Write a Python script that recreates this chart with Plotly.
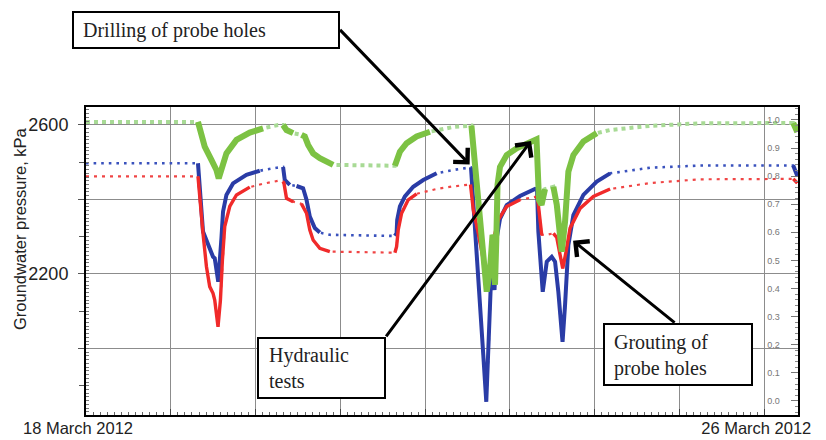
import pandas as pd
import plotly.graph_objects as go

BASE = pd.Timestamp("2012-03-18 00:00")

# ---- data (hours after 18 March 2012 00:00) ----
blue_h = [0, 31.7, 32.19, 33.12, 35.0, 35.96, 36.44, 36.92, 37.43, 38.34, 38.79, 39.75, 41.62,
          45.42, 49.19, 54.0, 55.79, 56.27, 57.69, 59.59, 61.46, 62.42, 63.36, 64.77, 66.19,
          69.02, 87.44, 87.92, 88.09, 88.86, 90.27, 92.63, 95.46, 99.26, 103.96, 108.98,
          109.63, 110.59, 111.53, 112.46, 113.31, 113.88, 114.36, 114.84, 115.64, 116.26,
          117.19, 119.09, 122.86, 127.11, 127.68, 128.05, 129.29, 130.43, 131.84, 132.78,
          133.71, 134.9, 135.61, 136.55, 137.96, 140.8, 144.59, 148.36, 159.69, 173.86,
          200.2, 201.35]
blue_kpa = [2497, 2497, 2421, 2314, 2269, 2246, 2242, 2206, 2179, 2296, 2367, 2412, 2443,
            2466, 2477, 2485, 2487, 2452, 2439, 2436, 2430, 2399, 2354, 2323, 2311,
            2305, 2302, 2309, 2345, 2381, 2408, 2434, 2452, 2470, 2479, 2486,
            2385, 2251, 2117, 1983, 1857, 1983, 2117, 2232, 2157, 2296,
            2348, 2385, 2409, 2428, 2426, 2314, 2152, 2233, 2246, 2233,
            2152, 2018, 2117, 2278, 2358, 2412, 2448, 2470, 2485, 2491,
            2491, 2463]

red_h = [0, 31.7, 32.19, 33.12, 34.09, 35.02, 35.96, 36.44, 37.37, 38.05, 38.62, 39.27, 40.69,
         42.59, 46.36, 50.12, 54.37, 55.79, 56.05, 56.76, 58.63, 61.0, 62.42, 63.36, 64.29,
         66.19, 69.02, 87.44, 87.92, 88.38, 89.34, 91.21, 93.59, 97.36, 99.26, 103.96, 108.84,
         109.63, 111.05, 112.46, 113.43, 114.36, 115.3, 116.71, 119.09, 122.86, 127.11,
         127.82, 129.01, 130.43, 132.3, 133.26, 134.2, 134.96, 135.9, 137.03, 139.86,
         143.63, 148.36, 159.69, 173.86, 200.2, 201.35]
red_kpa = [2462, 2462, 2399, 2309, 2220, 2166, 2148, 2130, 2058, 2130, 2238, 2327, 2381,
           2412, 2433, 2442, 2450, 2448, 2443, 2403, 2394, 2388, 2363, 2318, 2291,
           2269, 2260, 2257, 2273, 2318, 2363, 2399, 2415, 2425, 2428, 2435, 2440,
           2372, 2309, 2238, 2175, 2220, 2291, 2345, 2381, 2399, 2407,
           2404, 2305, 2305, 2309, 2298, 2251, 2215, 2260, 2323, 2376,
           2408, 2428, 2444, 2454, 2455, 2444]

green_h = [0, 31.7, 32.19, 33.6, 35.5, 36.92, 37.57, 38.34, 39.75, 42.59, 46.36, 50.12, 54.37,
           55.79, 56.76, 58.63, 61.0, 61.94, 62.88, 64.29, 66.19, 69.02, 69.96, 87.44, 87.92,
           88.86, 90.76, 93.59, 97.36, 103.96, 109.1, 110.11, 111.05, 112.46, 113.43, 114.36,
           115.07, 115.5, 115.78, 116.15, 116.49, 117.19, 119.09, 121.92, 124.76, 127.53,
           128.24, 128.95, 129.94, 132.3, 133.26, 134.68, 135.61, 136.55, 137.96, 140.8,
           144.59, 148.36, 159.69, 173.86, 200.2, 201.35]
green_rel = [0.993, 0.993, 0.964, 0.905, 0.858, 0.822, 0.792, 0.822, 0.881, 0.929, 0.955, 0.970, 0.982,
             0.982, 0.964, 0.953, 0.947, 0.941, 0.911, 0.881, 0.864, 0.846, 0.840, 0.837, 0.858,
             0.887, 0.917, 0.941, 0.958, 0.975, 0.980, 0.834, 0.680, 0.502, 0.389, 0.466,
             0.591, 0.573, 0.413, 0.573, 0.769, 0.833, 0.875, 0.899, 0.917, 0.931,
             0.715, 0.698, 0.754, 0.762, 0.698, 0.531, 0.638, 0.816, 0.875, 0.923,
             0.953, 0.964, 0.979, 0.988, 0.989, 0.957]

x_tick_days = [0, 1, 2, 3, 4, 5, 6, 7, 8]
x_tick_text = ["18 March 2012", "", "", "", "", "", "", "", "26 March 2012"]
y_tick_vals = [2000, 2200, 2400, 2600]
y_tick_text = ["", "2200", "", "2600"]
y2_tick_vals = [0.0, 0.1, 0.2, 0.3, 0.4, 0.5, 0.6, 0.7, 0.8, 0.9, 1.0]
y2_tick_text = ["0.0", "0.1", "0.2", "0.3", "0.4", "0.5", "0.6", "0.7", "0.8", "0.9", "1.0"]

labels = {
    "drill": "Drilling of probe holes",
    "hydro": "Hydraulic<br>tests",
    "grout": "Grouting of<br>probe holes",
    "ytitle": "Groundwater pressure, kPa",
}

# ---- layout geometry ----
W, H = 826, 440
ML, MR, MT, MB = 86, 28, 107, 25
PW, PH = W - ML - MR, H - MT - MB
X_RANGE_H = [0, 201.55]
Y_RANGE = [1821.5, 2648]
Y2_RANGE = [-0.05, 1.046]


def t(hours):
    return [None if v is None else BASE + pd.Timedelta(hours=v) for v in hours]


def steep_parts(h, v, vspan, thr):
    pxh = PW / (X_RANGE_H[1] - X_RANGE_H[0])
    pxv = PH / vspan
    sx, sy = [], []
    prev = False
    for i in range(len(h) - 1):
        dx = (h[i + 1] - h[i]) * pxh
        dy = abs(v[i + 1] - v[i]) * pxv
        st = dy > thr * dx
        if st:
            if not prev:
                if sx:
                    sx.append(None)
                    sy.append(None)
                sx.append(h[i])
                sy.append(v[i])
            sx.append(h[i + 1])
            sy.append(v[i + 1])
        prev = st
    return sx, sy


def px2paper(px, py):
    return (px - ML) / PW, (H - MB - py) / PH


fig = go.Figure()

yspan = Y_RANGE[1] - Y_RANGE[0]
y2span = Y2_RANGE[1] - Y2_RANGE[0]

# blue
fig.add_trace(go.Scatter(x=t(blue_h), y=blue_kpa, mode="lines", yaxis="y",
                         line=dict(color="#3a52bd", width=2.6, dash="2.6px,5px"),
                         hoverinfo="skip", showlegend=False))
bx, by = steep_parts(blue_h, blue_kpa, yspan, 0.3)
fig.add_trace(go.Scatter(x=t(bx), y=by, mode="lines", yaxis="y",
                         line=dict(color="#2a3ca6", width=4),
                         hoverinfo="skip", showlegend=False))
# red
fig.add_trace(go.Scatter(x=t(red_h), y=red_kpa, mode="lines", yaxis="y",
                         line=dict(color="#f04545", width=2.2, dash="3px,5px"),
                         hoverinfo="skip", showlegend=False))
rx, ry = steep_parts(red_h, red_kpa, yspan, 0.3)
fig.add_trace(go.Scatter(x=t(rx), y=ry, mode="lines", yaxis="y",
                         line=dict(color="#f02a2a", width=3.4),
                         hoverinfo="skip", showlegend=False))
# green (right axis)
fig.add_trace(go.Scatter(x=t(green_h), y=green_rel, mode="lines", yaxis="y2",
                         line=dict(color="#a8da95", width=4, dash="4px,4px"),
                         hoverinfo="skip", showlegend=False))
gx, gy = steep_parts(green_h, green_rel, y2span, 0.3)
fig.add_trace(go.Scatter(x=t(gx), y=gy, mode="lines", yaxis="y2",
                         line=dict(color="#7cc243", width=6),
                         hoverinfo="skip", showlegend=False))

# boxes
shapes = []
for (x0, y0, x1, y1) in [(73, 12, 339, 48), (258, 338, 385, 398), (604, 324, 752, 385)]:
    a0, b0 = px2paper(x0, y1)
    a1, b1 = px2paper(x1, y0)
    shapes.append(dict(type="rect", xref="paper", yref="paper", x0=a0, y0=b0, x1=a1, y1=b1,
                       line=dict(color="black", width=2), fillcolor="white", layer="above"))

annotations = []
serif = dict(family="Liberation Serif, Times New Roman, serif", size=20, color="#222")
for key, (px, py) in [("drill", (81, 30)), ("hydro", (267, 368)), ("grout", (612, 355))]:
    ax_, ay_ = px2paper(px, py)
    annotations.append(dict(text=labels[key], xref="paper", yref="paper", x=ax_, y=ay_,
                            xanchor="left", yanchor="middle", align="left", showarrow=False,
                            font=serif))

# arrows: tip in data coordinates, tail offset in pixels
arrows = [
    (108.6, 2494, -131, -136),
    (125.98, 2557, -146, 197),
    (137.88, 2289, 103, 83),
]
for (hh, pp, dx, dy) in arrows:
    annotations.append(dict(text="", x=BASE + pd.Timedelta(hours=hh), y=pp, xref="x", yref="y",
                            ax=dx, ay=dy, axref="pixel", ayref="pixel", showarrow=True,
                            arrowhead=4, arrowsize=1.3, arrowwidth=3, arrowcolor="black",
                            standoff=0, startstandoff=0, font=dict(size=1)))

tx, ty = px2paper(20, 229)
annotations.append(dict(text=labels["ytitle"], xref="paper", yref="paper", x=tx, y=ty,
                        xanchor="center", yanchor="middle", textangle=-90, showarrow=False,
                        font=dict(family="Liberation Sans, Arial, sans-serif", size=16.5,
                                  color="#222")))

fig.update_layout(
    width=W, height=H,
    margin=dict(l=ML, r=MR, t=MT, b=MB, pad=0, autoexpand=False),
    paper_bgcolor="white", plot_bgcolor="white",
    shapes=shapes, annotations=annotations,
    xaxis=dict(type="date", automargin=False,
               range=[BASE, BASE + pd.Timedelta(hours=X_RANGE_H[1])],
               tickmode="array",
               tickvals=[BASE + pd.Timedelta(days=d) for d in x_tick_days],
               ticktext=x_tick_text,
               showgrid=True, gridcolor="#8c8c8c", gridwidth=1,
               ticks="inside", ticklen=6, tickcolor="#444",
               minor=dict(dtick=2 * 3600 * 1000, ticks="inside", ticklen=3, tickcolor="#666",
                          showgrid=False),
               showline=True, linecolor="black", linewidth=2, mirror=True,
               tickfont=dict(family="Liberation Sans, Arial, sans-serif", size=16.5, color="#222"),
               ticklabelshift=-8, ticklabelstandoff=-3,
               zeroline=False),
    yaxis=dict(range=Y_RANGE, automargin=False, tickmode="array", tickvals=y_tick_vals,
               ticktext=y_tick_text,
               showgrid=True, gridcolor="#8c8c8c", gridwidth=1,
               ticks="outside", ticklen=6, tickcolor="#555",
               minor=dict(dtick=100, tick0=2000, ticks="outside", ticklen=5, tickcolor="#555",
                          showgrid=False),
               showline=True, linecolor="black", linewidth=2, mirror=False,
               tickfont=dict(family="Liberation Sans, Arial, sans-serif", size=18, color="#222"),
               ticklabelstandoff=6, zeroline=False),
    yaxis2=dict(range=Y2_RANGE, automargin=False, overlaying="y", side="right", tickmode="array",
                tickvals=y2_tick_vals, ticktext=y2_tick_text,
                showgrid=False, ticks="inside", ticklen=7, tickcolor="#777",
                ticklabelposition="inside", ticklabelstandoff=10,
                minor=dict(dtick=0.02, ticks="inside", ticklen=3, tickcolor="#888"),
                tickfont=dict(family="Liberation Sans, Arial, sans-serif", size=9, color="#777"),
                showline=True, linecolor="black", linewidth=2, zeroline=False),
    yaxis3=dict(range=Y_RANGE, automargin=False, overlaying="y", side="left", tickmode="linear",
                tick0=2000, dtick=10, ticks="inside", ticklen=3, tickcolor="#777",
                showticklabels=False, showgrid=False, showline=False, zeroline=False),
)

# invisible trace so that the inner tick comb on the left axis is drawn
fig.add_trace(go.Scatter(x=[BASE], y=[2600], yaxis="y3", mode="markers",
                         marker=dict(opacity=0), hoverinfo="skip", showlegend=False))

fig.write_html("out.html")
